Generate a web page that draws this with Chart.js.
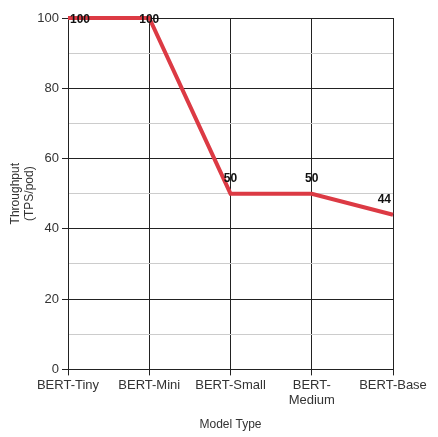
<!DOCTYPE html>
<html>
<head>
<meta charset="utf-8">
<script src="https://cdn.jsdelivr.net/npm/chart.js@4"></script>
<style>
  html, body { margin: 0; padding: 0; background: #fff; }
  #wrap { width: 438px; height: 437px; }
</style>
</head>
<body>
<div id="wrap"><canvas id="chart"></canvas></div>
<script>
/* =========================================================
   DATA
========================================================= */
const models = ["BERT-Tiny", "BERT-Mini", "BERT-Small", ["BERT-", "Medium"], "BERT-Base"];
const throughput = [100, 100, 50, 50, 44];
const yTitle = ["Throughput", "(TPS/pod)"];
const xTitle = "Model Type";

/* =========================================================
   VALUE LABELS
========================================================= */
const valueLabels = {
  id: "valueLabels",
  afterDatasetsDraw(chart) {
    const { ctx, chartArea } = chart;
    const meta = chart.getDatasetMeta(0);
    ctx.save();
    ctx.font = "bold 12px 'Liberation Sans', Arial, sans-serif";
    ctx.fillStyle = "#111";
    ctx.textAlign = "center";
    ctx.textBaseline = "middle";
    meta.data.forEach((pt, i) => {
      const txt = String(throughput[i]);
      const w = ctx.measureText(txt).width;
      let x = Math.min(Math.max(pt.x, chartArea.left + w / 2 + 2), chartArea.right - w / 2 - 2);
      let y = Math.max(pt.y - 15, chartArea.top + 2);
      ctx.fillText(txt, x, y);
    });
    ctx.restore();
  }
};

/* =========================================================
   CHART
========================================================= */
const font = { family: "'Liberation Sans', Arial, sans-serif", size: 13 };

new Chart(document.getElementById("chart"), {
  type: "line",
  data: {
    labels: models,
    datasets: [{
      data: throughput,
      borderColor: "#dc3a44",
      borderWidth: 4,
      pointRadius: 0,
      tension: 0,
      clip: false
    }]
  },
  options: {
    responsive: true,
    maintainAspectRatio: false,
    animation: false,
    layout: { padding: { top: 18, right: 45, left: 4, bottom: 1 } },
    plugins: { legend: { display: false }, tooltip: { enabled: false } },
    scales: {
      x: {
        offset: false,
        grid: { color: "#222", lineWidth: 1, tickLength: 6, tickColor: "#222" },
        border: { color: "#222" },
        ticks: { color: "#333", font, padding: 2, maxRotation: 0, autoSkip: false },
        title: { display: true, text: xTitle, color: "#333", font: { ...font, size: 12 }, padding: { top: 7 } }
      },
      y: {
        min: 0,
        max: 100,
        afterFit: s => { s.width = 64; },
        grid: {
          color: c => (c.tick && c.tick.value % 20 === 0) ? "#222" : "#ccc",
          tickColor: c => (c.tick && c.tick.value % 20 === 0) ? "#222" : "rgba(0,0,0,0)",
          tickLength: 6
        },
        border: { color: "#222" },
        ticks: {
          stepSize: 10,
          color: "#333",
          font,
          padding: 3,
          callback: v => v % 20 === 0 ? v : ""
        },
        title: { display: true, text: yTitle, color: "#333", font: { ...font, size: 12 }, padding: { bottom: 6 } }
      }
    }
  },
  plugins: [valueLabels]
});
</script>
</body>
</html>
